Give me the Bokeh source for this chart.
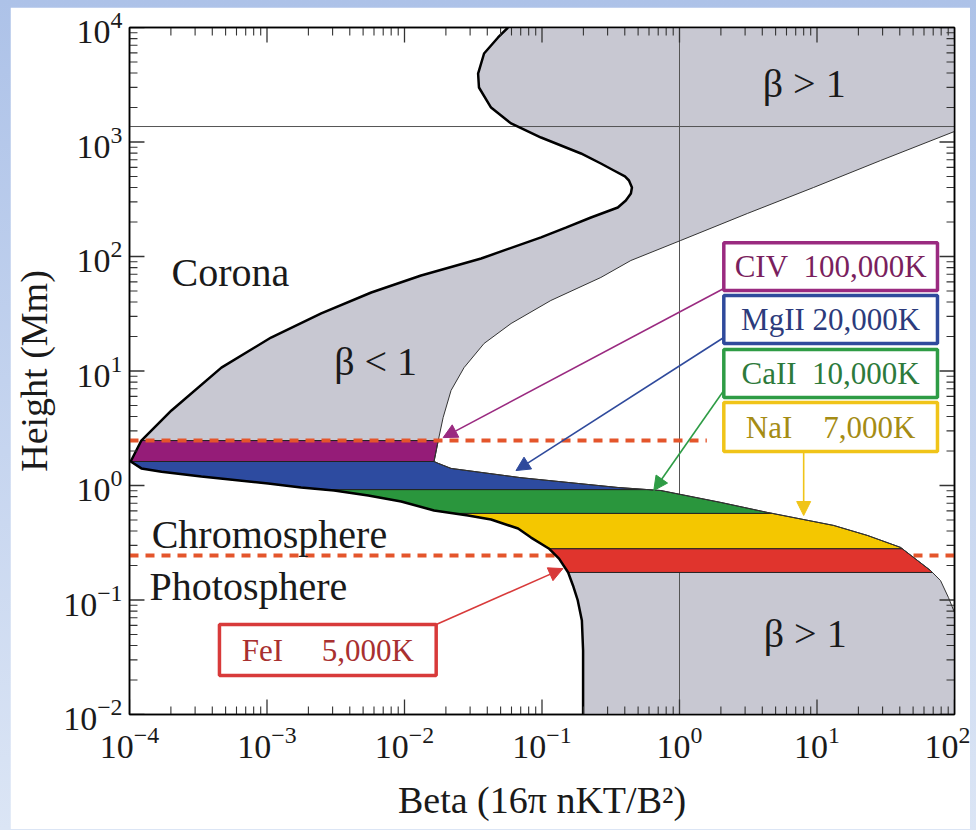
import numpy as np
from bokeh.plotting import figure
from bokeh.models import LogAxis, FixedTicker, Arrow, NormalHead, GlobalInlineStyleSheet
from bokeh.core.properties import value
from bokeh.embed import file_html
from bokeh.resources import INLINE

# ---------------- data ----------------
x_ticks = [1e-4, 1e-3, 1e-2, 1e-1, 1e0, 1e1, 1e2]
y_ticks = [1e-2, 1e-1, 1e0, 1e1, 1e2, 1e3, 1e4]

# lower-beta boundary (thick curve), from photosphere upward
beta_min = [0.199, 0.199, 0.195, 0.182, 0.168, 0.155, 0.133, 0.112, 0.0832, 0.0670,
            0.0426, 0.0290, 0.0164, 0.00946, 0.00545, 0.00308, 0.00177, 0.00102, 3.33e-4, 1.71e-4,
            1.22e-4, 1.02e-4, 1.22e-4, 2.02e-4, 4.66e-4, 1.07e-3, 2.48e-3, 5.73e-3, 0.0132, 0.0361,
            0.0984, 0.149, 0.227, 0.356, 0.407, 0.443, 0.451, 0.429, 0.401, 0.333,
            0.268, 0.192, 0.0984, 0.0596, 0.0426, 0.0348, 0.0343, 0.0379, 0.0479, 0.0566]
h_min = [0.01, 0.0362, 0.0662, 0.0991, 0.134, 0.174, 0.230, 0.282, 0.351, 0.421,
         0.505, 0.547, 0.605, 0.725, 0.818, 0.904, 0.961, 1.04, 1.20, 1.32,
         1.41, 1.62, 2.47, 4.52, 10.7, 19.6, 31.8, 48.5, 68.3, 96.1,
         147, 179, 219, 268, 308, 355, 401, 461, 500, 564,
         649, 794, 1094, 1452, 2000, 2992, 3963, 5929, 8180, 10000]

# upper-beta boundary (thin curve), from corona downward
beta_max = [100, 29.0, 9.46, 3.13, 1.02, 0.443, 0.268, 0.116, 0.0596, 0.0379,
            0.0271, 0.0218, 0.0191, 0.0176, 0.0164, 0.0176, 0.0218, 0.0703, 0.356, 0.731,
            2.00, 4.38, 13.2, 23.3, 40.5, 66.9, 79.1, 90.4, 100]
h_max = [1236, 689, 401, 238, 138, 92.3, 65.6, 41.3, 26.0, 17.4,
         10.7, 6.76, 3.93, 2.47, 1.62, 1.56, 1.41, 1.17, 0.961, 0.904,
         0.711, 0.581, 0.448, 0.366, 0.288, 0.181, 0.148, 0.105, 0.0778]

# line-formation bands (heights, Mm) from top to bottom
band_edges = [2.47, 1.62, 0.92, 0.57, 0.28, 0.174]
band_names = ["CIV", "MgII", "CaII", "NaI", "FeI"]
band_temps = ["100,000K", "20,000K", "10,000K", "7,000K", "5,000K"]
band_fill = ["#951c78", "#2d4ba0", "#2a963d", "#f4c700", "#e0342d"]
band_line = ["#9a2a80", "#2f4a9c", "#2e9c45", "#f0c419", "#d83a3a"]
band_text = ["#7a1f5e", "#2c3b7c", "#2d7a3b", "#a58c14", "#a83030"]

chromo_top = 2.47       # transition region (dashed)
photo_top = 0.245       # photosphere / chromosphere (dashed)
beta_unity = 1.0
h_ref = 1365

region_text = ["Corona", "\u03b2 < 1", "\u03b2 > 1", "\u03b2 > 1", "Chromosphere", "Photosphere"]
region_x = [2.02e-4, 3.08e-3, 4.03, 4.10, 1.45e-4, 1.40e-4]
region_y = [54.7, 9.14, 2448, 0.0385, 0.282, 0.099]

# label boxes (beta left/right, height bottom/top) and arrows
box_left = [2.10, 2.10, 2.10, 2.10, 4.51e-4]
box_right = [75.2, 75.2, 75.2, 75.2, 0.0170]
box_bottom = [50.5, 17.4, 5.87, 1.98, 0.0219]
box_top = [132, 45.6, 15.4, 5.31, 0.0611]
arrow_x0 = [2.10, 2.10, 2.10, 8.0, 0.0170]
arrow_y0 = [52.6, 19.6, 6.76, 1.98, 0.0611]
arrow_x1 = [0.0191, 0.0647, 0.650, 8.0, 0.142]
arrow_y1 = [2.62, 1.35, 0.904, 0.547, 0.188]
label_gap = ["\u00a0\u00a0", "\u00a0", "\u00a0\u00a0", "\u00a0\u00a0\u00a0\u00a0", "\u00a0\u00a0\u00a0\u00a0\u00a0"]

FONT = "Liberation Serif"

# ---------------- figure ----------------
W, H = 960, 822
B_LEFT, B_RIGHT, B_TOP, B_BOTTOM = 118, 16, 20, 115
page_css = ("html,body{margin:0 !important;padding:0 !important;}"
            "html{background:linear-gradient(#adc2e8,#dbe5f5);min-height:100%;}"
            "body{background:transparent !important;box-sizing:border-box;"
            "padding:7px 0 0 10px !important;}")

p = figure(width=W, height=H, x_axis_type="log", y_axis_type="log",
           x_range=(x_ticks[0], x_ticks[-1]), y_range=(y_ticks[0], y_ticks[-1]),
           output_backend="svg", toolbar_location=None,
           min_border_left=B_LEFT, min_border_right=B_RIGHT, min_border_top=B_TOP, min_border_bottom=B_BOTTOM,
           background_fill_color="white", border_fill_color="white",
           outline_line_color="black", outline_line_width=1.5)
p.grid.visible = False
p.stylesheets = [GlobalInlineStyleSheet(css=page_css)]


def minors(majors):
    out = []
    for m in majors[:-1]:
        out += [k * m for k in range(2, 10)]
    return out


def style_axis(ax, majors, show_labels):
    ax.ticker = FixedTicker(ticks=majors, minor_ticks=minors(majors))
    ax.major_tick_in = 0
    ax.major_tick_out = 0
    ax.minor_tick_in = 0
    ax.minor_tick_out = 0
    ax.major_tick_line_color = None
    ax.minor_tick_line_color = None
    ax.axis_line_width = 1.5
    ax.axis_line_color = "black"
    ax.major_label_text_font = FONT
    if show_labels:
        ax.major_label_text_font_size = "34px"
        ax.major_label_text_color = "#1a1a1a"
    else:
        ax.major_label_text_font_size = "2px"
        ax.major_label_text_alpha = 0.0
        ax.major_label_standoff = 0


style_axis(p.xaxis[0], x_ticks, True)
style_axis(p.yaxis[0], y_ticks, True)
p.xaxis[0].major_label_standoff = 12
p.yaxis[0].major_label_standoff = 7
p.xaxis[0].axis_label = "Beta (16\u03c0 nKT/B\u00b2)"
p.yaxis[0].axis_label = "Height (Mm)"
for ax in (p.xaxis[0], p.yaxis[0]):
    ax.axis_label_text_font = FONT
    ax.axis_label_text_font_style = "normal"
    ax.axis_label_text_font_size = "38px"
    ax.axis_label_text_color = "#1a1a1a"
p.xaxis[0].axis_label_standoff = 18
p.yaxis[0].axis_label_standoff = 5

top_ax = LogAxis()
right_ax = LogAxis()
style_axis(top_ax, x_ticks, False)
style_axis(right_ax, y_ticks, False)
p.add_layout(top_ax, "above")
p.add_layout(right_ax, "right")

# ---------------- shaded beta > 1 / beta < 1 structure ----------------
grey_x = beta_min + [x_ticks[-1]] + beta_max + [x_ticks[-1]]
grey_y = h_min + [y_ticks[-1]] + h_max + [y_ticks[0]]
p.patch(grey_x, grey_y, fill_color="#c8c8d2", line_color=None)

p.segment(x0=[beta_unity], y0=[y_ticks[0]], x1=[beta_unity], y1=[y_ticks[-1]], line_color="#555", line_width=1)
p.segment(x0=[x_ticks[0]], y0=[h_ref], x1=[x_ticks[-1]], y1=[h_ref], line_color="#555", line_width=1)

p.line([x_ticks[0], x_ticks[-1]], [photo_top, photo_top], line_color="#e4552b", line_width=4, line_dash="9 7")

lh_min = np.log10(h_min)
lb_min = np.log10(beta_min)
lh_max = np.log10(h_max)[::-1]
lb_max = np.log10(beta_max)[::-1]


def edge(lh, lb, lo, hi):
    a, b = np.log10(lo), np.log10(hi)
    inner = lh[(lh > a) & (lh < b)]
    hs = np.concatenate([[a], inner, [b]])
    bs = np.interp(hs, lh, lb)
    return bs, hs


bxs, bys = [], []
for i in range(len(band_names)):
    hi, lo = band_edges[i], band_edges[i + 1]
    lbx, lhy = edge(lh_min, lb_min, lo, hi)
    rbx, rhy = edge(lh_max, lb_max, lo, hi)
    xs = np.concatenate([lbx, rbx[::-1]])
    ys = np.concatenate([lhy, rhy[::-1]])
    bxs.append(list(10 ** xs))
    bys.append(list(10 ** ys))
p.patches(bxs, bys, fill_color=band_fill, line_color="#222", line_width=1)

p.line(beta_min, h_min, line_color="black", line_width=2.5)
p.line(beta_max, h_max, line_color="#333", line_width=1)

p.line([x_ticks[0], 1.58], [chromo_top, chromo_top], line_color="#e4552b", line_width=4, line_dash="9 7")

# ---------------- inward tick marks on all four sides ----------------
# drawn as single broken (NaN-separated) lines, which are never culled
frame_w = W - B_LEFT - B_RIGHT
frame_h = H - B_TOP - B_BOTTOM
dec_x = np.log10(x_ticks[-1] / x_ticks[0])
dec_y = np.log10(y_ticks[-1] / y_ticks[0])
x_lo, x_hi, y_lo, y_hi = x_ticks[0], x_ticks[-1], y_ticks[0], y_ticks[-1]


def broken(a0, a1, b):
    """segments a0->a1 at fixed b values, joined with NaN gaps"""
    A, B = [], []
    for i, bv in enumerate(b):
        A += [a0[i], a1[i], np.nan]
        B += [bv, bv, np.nan]
    return A, B


for vals, ln, lw in ((x_ticks, 15, 1.3), (minors(x_ticks), 8, 1.1)):
    f = 10 ** (ln * dec_y / frame_h)
    n = len(vals)
    ys_b, xs_b = broken([y_lo] * n, [y_lo * f] * n, vals)
    p.line(xs_b, ys_b, line_color="#333", line_width=lw)
    ys_t, xs_t = broken([y_hi] * n, [y_hi / f] * n, vals)
    p.line(xs_t, ys_t, line_color="#333", line_width=lw)
for vals, ln, lw in ((y_ticks, 15, 1.3), (minors(y_ticks), 8, 1.1)):
    f = 10 ** (ln * dec_x / frame_w)
    n = len(vals)
    xs_l, ys_l = broken([x_lo] * n, [x_lo * f] * n, vals)
    p.line(xs_l, ys_l, line_color="#333", line_width=lw)
    xs_r, ys_r = broken([x_hi] * n, [x_hi / f] * n, vals)
    p.line(xs_r, ys_r, line_color="#333", line_width=lw)

# ---------------- region labels ----------------
p.text(x=region_x, y=region_y, text=region_text, text_font=value(FONT), text_font_size="40px",
       text_align="left", text_baseline="alphabetic", y_offset=-14, text_color="#1a1a1a")

# ---------------- arrows and boxes ----------------
for i in range(len(band_names)):
    p.add_layout(Arrow(end=NormalHead(size=14, fill_color=band_line[i], line_color=band_line[i]),
                       x_start=arrow_x0[i], y_start=arrow_y0[i], x_end=arrow_x1[i], y_end=arrow_y1[i],
                       line_color=band_line[i], line_width=1.6))

p.quad(left=box_left, right=box_right, bottom=box_bottom, top=box_top,
       fill_color="white", line_color=band_line, line_width=3.5)
box_cx = list(np.sqrt(np.array(box_left) * np.array(box_right)))
box_cy = list(np.sqrt(np.array(box_bottom) * np.array(box_top)))
box_labels = [n + g + t for n, g, t in zip(band_names, label_gap, band_temps)]
p.text(x=box_cx, y=box_cy, text=box_labels, text_font=value(FONT), text_font_size="31px",
       text_align="center", text_baseline="middle", text_color=band_text)

open("out.html", "w").write(file_html(p, INLINE))
